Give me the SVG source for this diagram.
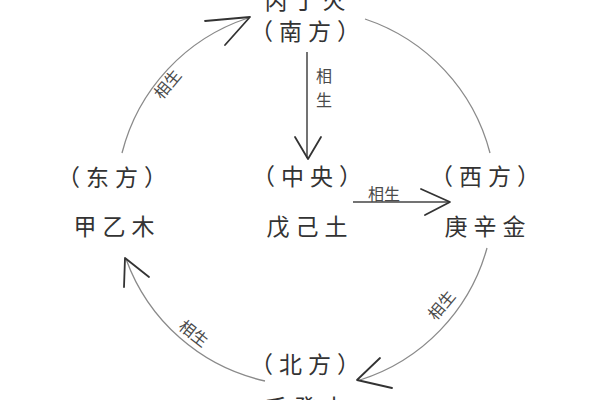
<svg xmlns="http://www.w3.org/2000/svg" width="600" height="400" viewBox="0 0 600 400">
<style>
.t{font-family:"Noto Sans CJK SC","Noto Sans",sans-serif;font-size:23px;fill:#333;letter-spacing:6px;text-anchor:middle}
.l{font-family:"Noto Sans CJK SC","Noto Sans",sans-serif;font-size:16px;fill:#4a4a4a;text-anchor:middle}
.arc{fill:none;stroke:#8a8a8a;stroke-width:1.3}
.ln{fill:none;stroke:#444;stroke-width:1.5}
.ah{fill:none;stroke:#333;stroke-width:1.8;stroke-linecap:round;stroke-linejoin:round}
</style>
<rect width="600" height="400" fill="#fff"/>
<g id="connectors">
  <path class="arc" d="M122,153 A192,192 0 0 1 248,18"/>
  <polyline class="ah" points="205,21 250,17 225,45"/>
  <path class="arc" d="M365,19 A192,192 0 0 1 490,153"/>
  <path class="arc" d="M487,248 A192,192 0 0 1 360,380"/>
  <polyline class="ah" points="380,358 357,380 392,388"/>
  <path class="arc" d="M265,381 A192,192 0 0 1 126,259"/>
  <polyline class="ah" points="124,287 125,258 149,277"/>
  <line class="ln" x1="307" y1="52" x2="307" y2="158"/>
  <polyline class="ah" points="295,137 308,159 321,137"/>
  <line class="ln" x1="353" y1="202" x2="449" y2="202"/>
  <polyline class="ah" points="421,189 450,202 425,215"/>
  <text class="l" x="324" y="82" font-size="19">相</text>
  <text class="l" x="324" y="106" font-size="19">生</text>
  <text class="l" x="384" y="200">相生</text>
  <text class="l" transform="translate(172,88) rotate(-50)">相生</text>
  <text class="l" transform="translate(446,309) rotate(-50)">相生</text>
  <text class="l" transform="translate(190,338) rotate(38)">相生</text>
</g>
<g id="south">
  <text class="t" x="308" y="9">丙丁火</text>
  <text class="t" x="308" y="40">（南方）</text>
</g>
<g id="center">
  <text class="t" x="310" y="185">（中央）</text>
  <text class="t" x="310" y="235">戊己土</text>
</g>
<g id="east">
  <text class="t" x="115" y="186">（东方）</text>
  <text class="t" x="117" y="235">甲乙木</text>
</g>
<g id="west">
  <text class="t" x="488" y="185">（西方）</text>
  <text class="t" x="488" y="235">庚辛金</text>
</g>
<g id="north">
  <text class="t" x="308" y="373">（北方）</text>
  <text class="t" x="308" y="416">壬癸水</text>
</g>
</svg>
